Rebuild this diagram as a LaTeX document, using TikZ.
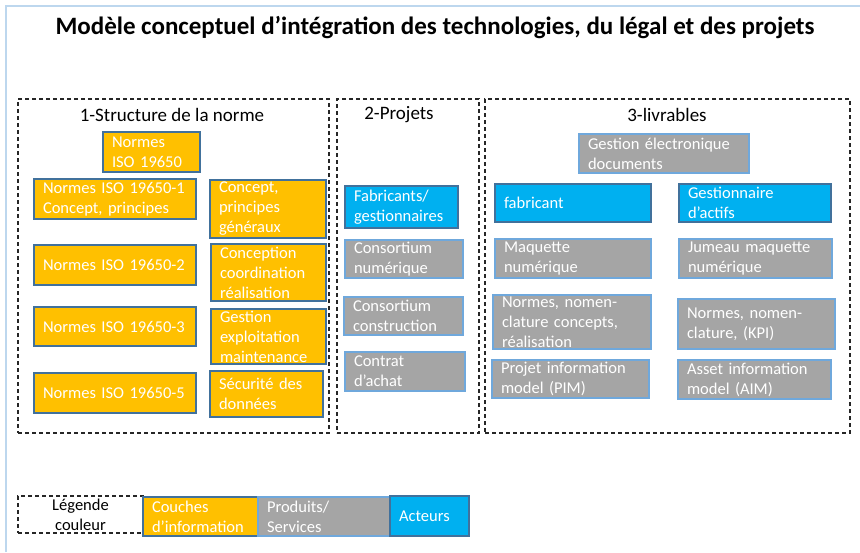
\documentclass[tikz,border=0pt]{standalone}
\usepackage{fontspec}
\setmainfont{Carlito}
\usepackage{tikz}
\usetikzlibrary{positioning}
\definecolor{orangeinfo}{HTML}{FFC000}
\definecolor{grisprod}{HTML}{A5A5A5}
\definecolor{bleuacteur}{HTML}{00B0F0}
\definecolor{bordfonce}{HTML}{41719C}
\definecolor{bordclair}{HTML}{6FA8DC}
\definecolor{cadrebleu}{HTML}{BDD7EE}

\tikzset{
  taille/.code 2 args={\pgfmathsetmacro\largtexte{#1-18}%
    \pgfkeysalso{minimum width=#1pt, minimum height=#2pt, text width=\largtexte pt}},
  bloc/.style={rectangle, inner xsep=9pt, inner ysep=0pt, align=left, text=white,
    font=\fontsize{16.5}{20}\selectfont, line width=1.3pt},
  couche/.style={bloc, fill=orangeinfo, draw=bordfonce},
  produit/.style={bloc, fill=grisprod, draw=bordclair},
  acteur/.style={bloc, fill=bleuacteur, draw=bordfonce},
  zone/.style={rectangle, draw=black!85, line width=1.2pt, dash pattern=on 4pt off 3pt, inner sep=0pt},
  entete/.style={font=\fontsize{19}{22}\selectfont, inner sep=0pt}
}

\begin{document}
\begin{tikzpicture}[x=1pt, y=-1pt]
    \useasboundingbox (0,0) rectangle (860,552);
    \draw[cadrebleu, line width=2pt] (6,552) -- (6,6) -- (860,6);

    \node (titre) at (435,28) [font=\fontsize{25}{28}\selectfont\bfseries, inner sep=0pt]
      {Modèle conceptuel d’intégration des technologies, du légal et des projets};

    % les trois zones
    \node (zone1) at (173.5,266) [zone, minimum width=311pt, minimum height=334pt]{};
    \node (zone2) at (408,266) [zone, minimum width=142pt, minimum height=334pt]{};
    \node (zone3) at (667.5,266) [zone, minimum width=365pt, minimum height=334pt]{};

    \node (titre1) at (172,115) [entete]{1-Structure de la norme};
    \node (titre2) at (399,115) [entete]{2-Projets};
    \node (titre3) at (667,115) [entete]{3-livrables};

    % 1-Structure de la norme
    \node (iso) at (151.5,152) [couche, taille={97}{40}]{Normes\\ISO 19650};
    \node (iso1) at (115,199) [couche, taille={162}{40}]{Normes ISO 19650-1\\Concept, principes};
    \node (concept) at (268,209) [couche, taille={116}{58}]{Concept,\\principes\\généraux};
    \node (iso2) at (115,265) [couche, taille={162}{40}]{Normes ISO 19650-2};
    \node (conception) at (268.5,272.5) [couche, taille={115}{57}]{Conception\\coordination\\réalisation};
    \node (iso3) at (115,326.5) [couche, taille={162}{39}]{Normes ISO 19650-3};
    \node (gestion) at (268.5,336.5) [couche, taille={115}{55}]{Gestion\\exploitation\\maintenance};
    \node (iso5) at (115,393) [couche, taille={162}{40}]{Normes ISO 19650-5};
    \node (securite) at (266.5,394) [couche, taille={113}{46}]{Sécurité des\\données};

    % 2-Projets
    \node (fabgest) at (401.5,207) [acteur, taille={113}{42}]{Fabricants/\\gestionnaires};
    \node (consnum) at (404,259) [produit, taille={118}{38}]{Consortium\\numérique};
    \node (conscons) at (403.5,316) [produit, taille={119}{38}]{Consortium\\construction};
    \node (contrat) at (405,371.5) [produit, taille={120}{39}]{Contrat\\d’achat};

    % 3-livrables
    \node (ged) at (664,153.5) [produit, taille={170}{39}]{Gestion électronique\\documents};
    \node (fabricant) at (573,203) [acteur, taille={156}{38}]{fabricant};
    \node (gestactifs) at (755,203) [acteur, taille={152}{38}]{Gestionnaire\\d’actifs};
    \node (maquette) at (573,258.5) [produit, taille={156}{39}]{Maquette\\numérique};
    \node (jumeau) at (755.5,258.5) [produit, taille={153}{39}]{Jumeau maquette\\numérique};
    \node (normespim) at (572,322) [produit, taille={158}{54}]{Normes, nomen-\\clature concepts,\\réalisation};
    \node (normeskpi) at (756.5,324) [produit, taille={157}{50}]{Normes, nomen-\\clature, (KPI)};
    \node (pim) at (570.5,379) [produit, taille={157}{38}]{Projet information\\model (PIM)};
    \node (aim) at (754.5,379.5) [produit, taille={153}{39}]{Asset information\\model (AIM)};

    % legende
    \node (legende) at (80.5,514.5) [zone, minimum width=125pt, minimum height=37pt, align=center,
      font=\fontsize{16.5}{20}\selectfont]{Légende\\couleur};
    \node (couches) at (200.5,516.5) [couche, taille={115}{39}]{Couches\\d’information};
    \node (produits) at (324,516.5) [produit, taille={132}{39}]{Produits/\\Services};
    \node (acteurs) at (429.5,516) [acteur, taille={79}{40}]{Acteurs};
\end{tikzpicture}
\end{document}
